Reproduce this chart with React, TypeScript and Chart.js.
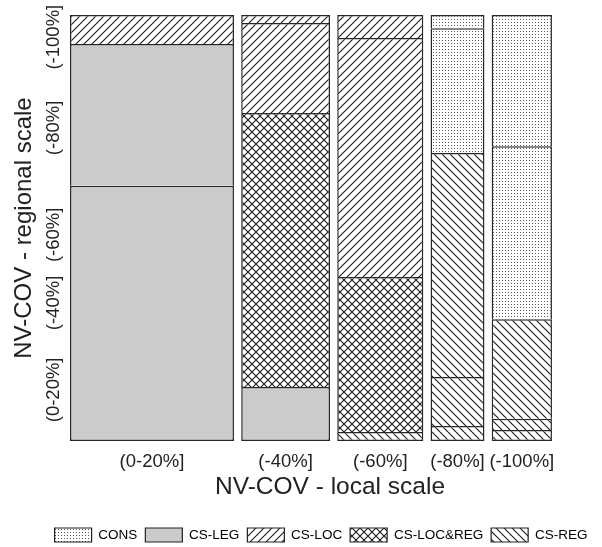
import React, { useEffect, useRef } from 'react';
import { Chart, registerables } from 'chart.js';

Chart.register(...registerables);

const FONT = "'Liberation Sans', Arial, Helvetica, sans-serif";
const TEXT = '#222222';

// Categories (fills)
const CATEGORIES = ['CONS', 'CS-LEG', 'CS-LOC', 'CS-LOC&REG', 'CS-REG'];

// Local-scale classes (columns) and their relative widths
const LOCAL_LABELS = ['(0-20%]', '(-40%]', '(-60%]', '(-80%]', '(-100%]'];
const LOCAL_SHARE = [0.362, 0.196, 0.19, 0.119, 0.133];

// Regional-scale classes (rows) and the positions of their labels
const REGIONAL_LABELS = ['(0-20%]', '(-40%]', '(-60%]', '(-80%]', '(-100%]'];
const REGIONAL_LABEL_POS = [0.12, 0.324, 0.484, 0.735, 0.948];

// Regional shares inside each local column (bottom -> top)
const SHARE_0_20 = [0.599, 0.333, 0.068, 0, 0];
const SHARE_40 = [0.127, 0.643, 0.211, 0.019, 0];
const SHARE_60 = [0.021, 0.364, 0.561, 0.054, 0];
const SHARE_80 = [0.035, 0.115, 0.526, 0.293, 0.031];
const SHARE_100 = [0.026, 0.026, 0.234, 0.406, 0.308];

// Category of each cell (bottom -> top)
const CAT_0_20 = ['CS-LEG', 'CS-LEG', 'CS-LOC', 'CS-LOC', 'CS-LOC'];
const CAT_40 = ['CS-LEG', 'CS-LOC&REG', 'CS-LOC', 'CS-LOC', 'CS-LOC'];
const CAT_60 = ['CS-REG', 'CS-LOC&REG', 'CS-LOC', 'CS-LOC', 'CS-LOC'];
const CAT_80 = ['CS-REG', 'CS-REG', 'CS-REG', 'CONS', 'CONS'];
const CAT_100 = ['CS-REG', 'CS-REG', 'CS-REG', 'CONS', 'CONS'];

const COLUMN_SHARES = [SHARE_0_20, SHARE_40, SHARE_60, SHARE_80, SHARE_100];
const COLUMN_CATS = [CAT_0_20, CAT_40, CAT_60, CAT_80, CAT_100];

// layout constants
const GAP = 0.016;
const X_MAX = 1.148;
const LEGEND_SHIFT_X = 26;
const LEGEND_SHIFT_Y = 5;

function makeFills(): Record<string, CanvasPattern | string> {
  const out: Record<string, CanvasPattern | string> = {};
  const mk = (size: number, draw: (ctx: CanvasRenderingContext2D, s: number) => void) => {
    const c = document.createElement('canvas');
    c.width = size;
    c.height = size;
    const ctx = c.getContext('2d')!;
    ctx.fillStyle = '#ffffff';
    ctx.fillRect(0, 0, size, size);
    draw(ctx, size);
    return ctx.createPattern(c, 'repeat')!;
  };
  const fwd = (ctx: CanvasRenderingContext2D, s: number) => {
    ctx.beginPath();
    ctx.moveTo(-1, 1); ctx.lineTo(1, -1);
    ctx.moveTo(0, s); ctx.lineTo(s, 0);
    ctx.moveTo(s - 1, s + 1); ctx.lineTo(s + 1, s - 1);
    ctx.stroke();
  };
  const back = (ctx: CanvasRenderingContext2D, s: number) => {
    ctx.beginPath();
    ctx.moveTo(0, 0); ctx.lineTo(s, s);
    ctx.moveTo(-1, s - 1); ctx.lineTo(1, s + 1);
    ctx.moveTo(s - 1, -1); ctx.lineTo(s + 1, 1);
    ctx.stroke();
  };
  const line = (ctx: CanvasRenderingContext2D) => {
    ctx.strokeStyle = '#1e1e1e';
    ctx.lineWidth = 1.15;
  };
  out['CONS'] = mk(3, (ctx) => {
    ctx.fillStyle = '#5a5a5a';
    ctx.fillRect(1, 1, 1, 1);
  });
  out['CS-LEG'] = '#cbcbcb';
  out['CS-LOC'] = mk(8, (ctx, s) => { line(ctx); fwd(ctx, s); });
  out['CS-REG'] = mk(8, (ctx, s) => { line(ctx); back(ctx, s); });
  out['CS-LOC&REG'] = mk(8, (ctx, s) => { line(ctx); fwd(ctx, s); back(ctx, s); });
  return out;
}

const legendShift = {
  id: 'legendShift',
  afterLayout(chart: any) {
    const l = chart.legend;
    if (!l) return;
    l.left += LEGEND_SHIFT_X;
    l.right += LEGEND_SHIFT_X;
    l.top += LEGEND_SHIFT_Y;
    l.bottom += LEGEND_SHIFT_Y;
  },
};

export default function App() {
  const ref = useRef<HTMLCanvasElement>(null);

  useEffect(() => {
    const canvas = ref.current;
    if (!canvas) return;
    const fills = makeFills();

    const lefts: number[] = [];
    let acc = 0;
    LOCAL_SHARE.forEach((w) => {
      lefts.push(acc);
      acc += w + GAP;
    });
    const centers = LOCAL_SHARE.map((w, i) => lefts[i] + w / 2);

    const datasets = COLUMN_SHARES.map((shares, ci) => {
      let lo = 0;
      const data = shares.map((s) => {
        const d = { x: centers[ci], y: [lo, lo + s] };
        lo += s;
        return d;
      });
      return {
        label: LOCAL_LABELS[ci],
        data,
        backgroundColor: COLUMN_CATS[ci].map((c) => fills[c]),
        borderColor: '#262626',
        borderSkipped: false,
        inflateAmount: 0,
        grouped: false,
        borderWidth: (ctx: any) => ({
          top: 1.5,
          left: 1.5,
          right: 1.5,
          bottom: ctx.raw && ctx.raw.y && ctx.raw.y[0] === 0 ? 1.5 : 0,
        }),
        barThickness: (ctx: any) => {
          const s = ctx.chart.scales.x;
          return Math.abs(s.getPixelForValue(LOCAL_SHARE[ctx.datasetIndex]) - s.getPixelForValue(0));
        },
      };
    });

    const chart = new Chart(canvas, {
      type: 'bar',
      data: { datasets: datasets as any },
      plugins: [legendShift],
      options: {
        animation: false,
        responsive: false,
        devicePixelRatio: 1,
        layout: { padding: { top: 15, right: 12, bottom: 0, left: 0 } },
        plugins: {
          tooltip: { enabled: false },
          legend: {
            position: 'bottom',
            onClick: () => {},
            labels: {
              boxWidth: 37,
              boxHeight: 14,
              padding: 8,
              color: TEXT,
              font: { family: FONT, size: 13.5 },
              generateLabels: () =>
                CATEGORIES.map((c, i) => ({
                  text: c,
                  fillStyle: fills[c] as any,
                  strokeStyle: '#222222',
                  lineWidth: 1.2,
                  hidden: false,
                  index: i,
                })),
            },
          },
        },
        scales: {
          x: {
            type: 'linear',
            min: 0,
            max: X_MAX,
            offset: false,
            grid: { display: false, drawTicks: false },
            border: { display: false },
            afterBuildTicks: (s: any) => {
              s.ticks = centers.map((v) => ({ value: v }));
            },
            afterFit: (s: any) => {
              s.height = 74;
            },
            ticks: {
              autoSkip: false,
              maxRotation: 0,
              minRotation: 0,
              padding: 10,
              color: TEXT,
              font: { family: FONT, size: 18.5 },
              callback: (_v: any, i: number) => LOCAL_LABELS[i],
            },
            title: {
              display: true,
              text: 'NV-COV - local scale',
              color: TEXT,
              font: { family: FONT, size: 24.5 },
              padding: { top: 0, bottom: 13 },
            },
          },
          y: {
            type: 'linear',
            min: 0,
            max: 1,
            grid: { display: false, drawTicks: false },
            border: { display: false },
            afterBuildTicks: (s: any) => {
              s.ticks = REGIONAL_LABEL_POS.map((v) => ({ value: v }));
            },
            afterFit: (s: any) => {
              s.width = 70;
            },
            ticks: {
              autoSkip: false,
              minRotation: 90,
              maxRotation: 90,
              crossAlign: 'center',
              padding: -16.4,
              color: TEXT,
              font: { family: FONT, size: 18.5 },
              callback: (_v: any, i: number) => REGIONAL_LABELS[i],
            },
            title: {
              display: true,
              text: 'NV-COV - regional scale',
              color: TEXT,
              font: { family: FONT, size: 24 },
              padding: { top: 10, bottom: 0 },
            },
          },
        },
      } as any,
    });

    return () => chart.destroy();
  }, []);

  return (
    <div style={{ position: 'fixed', left: 0, top: 0, width: 602, height: 547, background: '#ffffff' }}>
      <canvas ref={ref} width={602} height={547} style={{ display: 'block' }} />
    </div>
  );
}
